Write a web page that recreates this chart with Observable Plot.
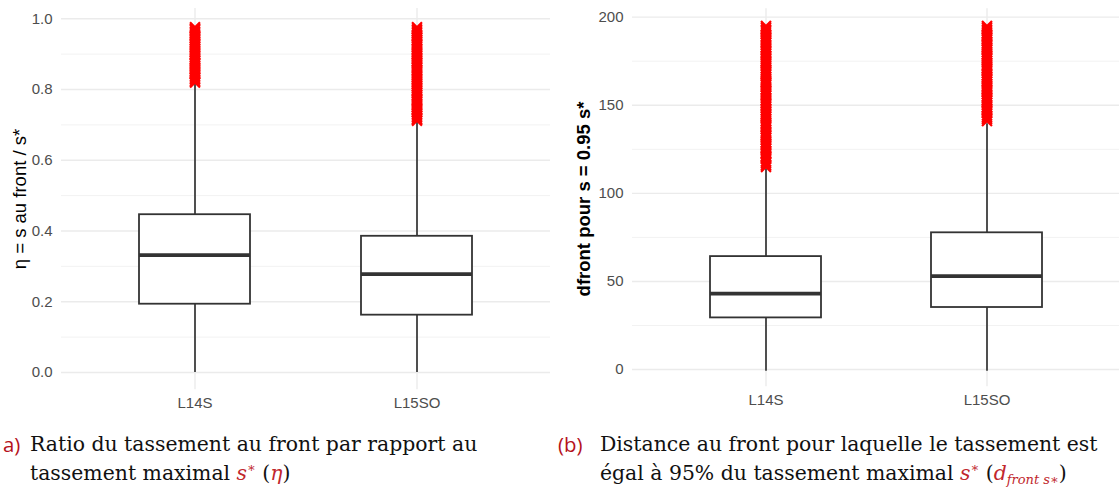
<!DOCTYPE html>
<html><head><meta charset="utf-8">
<script src="https://cdn.jsdelivr.net/npm/d3@7"></script>
<script src="https://cdn.jsdelivr.net/npm/@observablehq/plot@0.6"></script>
<style>
html,body{margin:0;padding:0;background:#fff}
body{width:1120px;height:489px;overflow:hidden;position:relative;font-family:"Liberation Sans",Arial,sans-serif}
#left,#right{position:absolute;top:0}
#left{left:0}#right{left:560px}
#left svg text,#right svg text{font-size:15px !important;fill:#4d4d4d}
.ytitle{position:absolute;transform:translate(-50%,-50%) rotate(-90deg);white-space:nowrap;font-size:18.5px;color:#000;font-family:"Liberation Sans",Arial,sans-serif}
.cap{position:absolute;font-family:"DejaVu Serif",serif;font-size:20.4px;color:#111;white-space:nowrap;line-height:24px}
.lab{position:absolute;font-family:"Open Sans","DejaVu Sans",sans-serif;font-size:20.4px;line-height:24px;color:#b5121b;white-space:nowrap}
.m{color:#c1272d;font-style:italic}
.mu{color:#c1272d}
.sub{color:#c1272d;font-style:italic;font-size:13px;vertical-align:-4px}
</style></head><body>
<div id="left"></div><div id="right"></div>
<div class="ytitle" style="left:20px;top:199px">η = s au front / s*</div>
<div class="ytitle" style="left:584px;top:199px;font-weight:bold">dfront pour s = 0.95 s*</div>
<div class="lab" style="left:3px;top:432px">a)</div>
<div class="cap" style="left:30px;top:432px">Ratio du tassement au front par rapport au<br>tassement maximal <span class="m">s</span><sup class="mu" style="font-size:13px">∗</sup> (<span class="m">η</span>)</div>
<div class="lab" style="left:558px;top:432px">(b)</div>
<div class="cap" style="left:600px;top:432px">Distance au front pour laquelle le tassement est<br>égal à 95% du tassement maximal <span class="m">s</span><sup class="mu" style="font-size:13px">∗</sup> (<span class="m">d</span><span class="sub">front s∗</span>)</div>
<script>
const categories = ["L14S", "L15SO"];

// Panel (a): eta
const etaLow = [0, 0];
const etaQ1 = [0.193, 0.162];
const etaMedian = [0.332, 0.278];
const etaQ3 = [0.446, 0.385];
const etaHigh = [0.818, 0.708];
const etaOutL14S = [0.82, 0.824, 0.829, 0.833, 0.838, 0.843, 0.846, 0.851, 0.857, 0.861, 0.866, 0.872, 0.876, 0.881, 0.885, 0.891, 0.896, 0.9, 0.905, 0.911, 0.915, 0.92, 0.926, 0.93, 0.934, 0.94, 0.945, 0.949, 0.954, 0.959, 0.963, 0.968, 0.972, 0.976];
const etaOutL15SO = [0.712, 0.716, 0.721, 0.726, 0.73, 0.735, 0.741, 0.745, 0.75, 0.755, 0.76, 0.766, 0.77, 0.774, 0.78, 0.785, 0.79, 0.795, 0.799, 0.805, 0.81, 0.815, 0.82, 0.826, 0.83, 0.835, 0.84, 0.846, 0.85, 0.855, 0.861, 0.865, 0.87, 0.876, 0.88, 0.885, 0.89, 0.896, 0.9, 0.905, 0.911, 0.915, 0.92, 0.926, 0.93, 0.935, 0.94, 0.946, 0.95, 0.955, 0.96, 0.965, 0.97, 0.976];
const etaTicks = [0, 0.2, 0.4, 0.6, 0.8, 1.0];
const etaMinor = [0.1, 0.3, 0.5, 0.7, 0.9];

// Panel (b): dfront
const dLow = [-1, -1];
const dQ1 = [29.3, 35.2];
const dMedian = [43.1, 53.0];
const dQ3 = [64.1, 77.6];
const dHigh = [114, 139.5];
const dOutL14S = [115, 116, 117.2, 118, 119.5, 120.3, 121, 122.4, 123, 124.1, 125.5, 126.2, 127, 128.3, 129, 130.2, 131.5, 132.4, 133, 134.1, 135, 136.3, 137.5, 138.2, 139, 140.1, 141, 142.4, 143.5, 144.2, 145, 146.3, 147, 148.1, 149.5, 150.2, 151, 152.4, 153, 154.1, 155.5, 156.2, 157, 158.3, 159, 160.2, 161.5, 162.4, 163, 164.1, 165, 166.3, 167.5, 168.2, 169, 170.1, 171, 172.4, 173.5, 174.2, 175, 176.3, 177, 178.1, 179.5, 180.2, 181, 182.4, 183, 184.1, 185.5, 186.2, 187, 188.3, 189, 190.2, 191.5, 192.4, 193, 194.1, 195];
const dOutL15SO = [141, 142.2, 143, 144.1, 145.5, 146.3, 147, 148.2, 149, 150.1, 151.5, 152.4, 153, 154.2, 155, 156.1, 157.5, 158.3, 159, 160.2, 161, 162.1, 163.5, 164.4, 165, 166.2, 167, 168.1, 169.5, 170.3, 171, 172.2, 173, 174.1, 175.5, 176.4, 177, 178.2, 179, 180.1, 181.5, 182.3, 183, 184.2, 185, 186.1, 187.5, 188.4, 189, 190.2, 191, 192.1, 193, 194.2, 195];
const dTicks = [0, 50, 100, 150, 200];
const dMinor = [25, 75, 125, 175];

const statsTable = (lo, q1, med, q3, hi) => categories.map((c, i) => ({cat: c, lo: lo[i], q1: q1[i], med: med[i], q3: q3[i], hi: hi[i]}));
const outTable = (a, b) => [...a.map(v => ({cat: categories[0], v})), ...b.map(v => ({cat: categories[1], v}))];

function panel({stats, outs, ticks, minor, domain, fmt, marginLeft, marginRight, marginTop, marginBottom}) {
  return Plot.plot({
    width: 560, height: 420,
    marginLeft, marginRight, marginTop, marginBottom,
    style: {fontFamily: '"Liberation Sans", Arial, sans-serif', color: "#4d4d4d", background: "white", fontSize: "15px"},
    x: {type: "band", domain: categories, paddingInner: 0.5, paddingOuter: 0.35, axis: null},
    y: {domain, axis: null},
    marks: [
      Plot.ruleY(minor, {stroke: "#f2f2f2", strokeWidth: 1}),
      Plot.ruleY(ticks, {stroke: "#ebebeb", strokeWidth: 1.4}),
      Plot.ruleX(categories, {stroke: "#ebebeb", strokeWidth: 1.4}),
      Plot.ruleX(stats, {x: "cat", y1: "lo", y2: "q1", stroke: "#333333", strokeWidth: 1.7}),
      Plot.ruleX(stats, {x: "cat", y1: "q3", y2: "hi", stroke: "#333333", strokeWidth: 1.7}),
      Plot.barY(stats, {x: "cat", y1: "q1", y2: "q3", fill: "white", stroke: "#333333", strokeWidth: 1.8}),
      Plot.tickY(stats, {x: "cat", y: "med", stroke: "#333333", strokeWidth: 3.8}),
      Plot.dot(outs, {x: "cat", y: "v", symbol: "times", r: 4.6, stroke: "#ff0000", strokeWidth: 2.2}),
      Plot.axisY(ticks, {tickSize: 0, tickPadding: 9, tickFormat: fmt, label: null, fontSize: 15}),
      Plot.axisX({tickSize: 0, tickPadding: 8, label: null, fontSize: 15})
    ]
  });
}

document.getElementById("left").appendChild(panel({
  stats: statsTable(etaLow, etaQ1, etaMedian, etaQ3, etaHigh),
  outs: outTable(etaOutL14S, etaOutL15SO),
  ticks: etaTicks, minor: etaMinor, domain: [-0.049, 1.029], fmt: d3.format(".1f"),
  marginLeft: 61, marginRight: 10, marginTop: 8, marginBottom: 30.7
}));
document.getElementById("right").appendChild(panel({
  stats: statsTable(dLow, dQ1, dMedian, dQ3, dHigh),
  outs: outTable(dOutL14S, dOutL15SO),
  ticks: dTicks, minor: dMinor, domain: [-9.75, 204.75], fmt: d3.format("d"),
  marginLeft: 72, marginRight: 1, marginTop: 8.3, marginBottom: 33.8
}));
</script>
</body></html>
